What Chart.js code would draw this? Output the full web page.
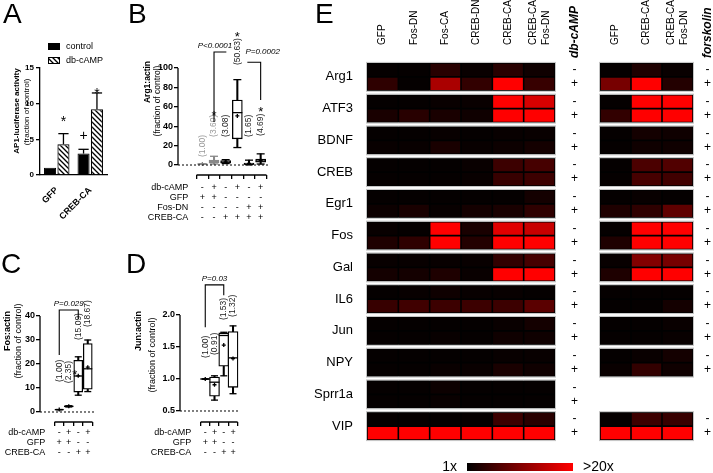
<!DOCTYPE html>
<html>
<head>
<meta charset="utf-8">
<script src="https://cdn.jsdelivr.net/npm/chart.js@4"></script>
<style>
  body { margin: 0; background: #fff; }
  #page { position: relative; width: 713px; height: 473px; overflow: hidden; font-family: 'Liberation Sans', Arial, sans-serif; }
  canvas { position: absolute; }
  .letter { position: absolute; font-size: 28px; line-height: 28px; color: #000; }
</style>
</head>
<body>
<div id="page">
  <canvas id="cA" width="115" height="240" style="left:0;top:0"></canvas>
  <canvas id="cB" width="190" height="240" style="left:110px;top:0"></canvas>
  <canvas id="cC" width="150" height="233" style="left:0;top:240px"></canvas>
  <canvas id="cD" width="175" height="233" style="left:125px;top:240px"></canvas>
  <canvas id="cE1" width="330" height="473" style="left:300px;top:0"></canvas>
  <canvas id="cE2" width="118" height="473" style="left:595px;top:0"></canvas>
  <div class="letter" style="left:3px;top:0">A</div>
  <div class="letter" style="left:128px;top:0">B</div>
  <div class="letter" style="left:1px;top:250px">C</div>
  <div class="letter" style="left:126px;top:250px">D</div>
  <div class="letter" style="left:315px;top:0">E</div>
</div>
<script>
// A: AP1-luciferase activity
const aGroups = ['GFP', 'CREB-CA'];
const aControl = [1.0, 3.0];
const aControlErr = [null, 3.6];
const aCamp = [4.3, 9.2];
const aCampErr = [5.8, 11.5];

// B: Arg1:actin
const bRows = ['db-cAMP', 'GFP', 'Fos-DN', 'CREB-CA'];
const bTable = [
  ['-', '+', '-', '+', '-', '+'],
  ['+', '+', '-', '-', '-', '-'],
  ['-', '-', '-', '-', '+', '+'],
  ['-', '-', '+', '+', '+', '+']
];
const bMin = [1, 1.0, 1.5, 18, 0.3, 1.0];
const bQ1 = [1, 2.0, 2.0, 27, 0.5, 3.0];
const bMed = [1, 3.5, 3.0, 54, 1.0, 4.0];
const bQ3 = [1, 5.0, 4.5, 67, 2.0, 6.0];
const bMax = [1, 9.0, 5.5, 88, 5.0, 11.5];
const bMean = [1.00, 3.60, 3.08, 50.63, 1.65, 4.69];

// C: Fos:actin
const cdRows = ['db-cAMP', 'GFP', 'CREB-CA'];
const cdTable = [
  ['-', '+', '-', '+'],
  ['+', '+', '-', '-'],
  ['-', '-', '+', '+']
];
const cMin = [1, 2.1, 7, 8.5];
const cQ1 = [1, 2.1, 8.3, 9.5];
const cMed = [1, 2.35, 15, 18];
const cQ3 = [1, 2.6, 21.5, 28.5];
const cMax = [1, 2.6, 23, 30];
const cMean = [1.00, 2.35, 15.09, 18.67];

// D: Jun:actin
const dMin = [1, 0.67, 1.05, 0.77];
const dQ1 = [1, 0.73, 1.2, 0.87];
const dMed = [1, 0.95, 1.68, 1.33];
const dQ3 = [1, 1.03, 1.72, 1.74];
const dMax = [1, 1.05, 1.73, 1.83];
const dMean = [1.00, 0.91, 1.53, 1.32];

// E: fold change heatmap
const genes = ['Arg1', 'ATF3', 'BDNF', 'CREB', 'Egr1', 'Fos', 'Gal', 'IL6', 'Jun', 'NPY', 'Sprr1a', 'VIP'];
const dbCols = ['GFP', 'Fos-DN', 'Fos-CA', 'CREB-DN', 'CREB-CA', ['CREB-CA', 'Fos-DN']];
const dbMinus = [
  [1.4, 1.4, 4.0, 1.7, 4.0, 2.1],
  [1.4, 1.4, 1.7, 1.7, 22, 17.0],
  [1.4, 1.4, 1.6, 1.4, 1.6, 1.7],
  [1.4, 1.4, 1.4, 1.7, 5.5, 6.2],
  [1.4, 1.4, 1.4, 1.4, 1.4, 2.5],
  [1.6, 1.4, 22, 2.9, 17.8, 15.9],
  [1.6, 1.6, 1.6, 1.6, 4.7, 6.2],
  [1.4, 1.6, 2.1, 1.6, 1.6, 1.4],
  [1.4, 1.4, 1.4, 1.4, 1.7, 2.5],
  [1.4, 1.4, 1.4, 1.4, 1.6, 1.6],
  [1.4, 1.4, 1.9, 1.4, 1.4, 1.4],
  [1.4, 1.4, 1.4, 1.4, 5.5, 4.0]
];
const dbPlus = [
  [4.4, 1.4, 13.7, 4.7, 22, 5.1],
  [2.9, 4.0, 2.9, 2.1, 22, 22],
  [1.6, 1.6, 2.9, 1.6, 1.9, 2.5],
  [1.4, 1.4, 1.4, 1.6, 5.1, 5.5],
  [1.9, 2.9, 1.6, 2.5, 2.9, 4.4],
  [3.2, 4.4, 22, 3.6, 22, 22],
  [2.5, 2.5, 3.2, 1.7, 22, 22],
  [5.1, 5.8, 5.5, 5.5, 5.5, 7.7],
  [1.4, 1.4, 1.6, 1.4, 2.1, 2.1],
  [1.4, 1.4, 1.7, 1.7, 2.9, 2.1],
  [1.4, 1.4, 1.7, 1.4, 1.4, 1.4],
  [22, 22, 22, 22, 22, 22]
];
const fskCols = ['GFP', 'CREB-CA', ['CREB-CA', 'Fos-DN']];
const fskMinus = [
  [1.4, 3.2, 1.7],
  [1.4, 22, 22],
  [1.4, 2.5, 2.1],
  [1.4, 6.6, 7.0],
  [1.4, 1.6, 1.4],
  [1.4, 22, 22],
  [1.6, 10.7, 9.9],
  [1.4, 1.4, 1.4],
  [1.4, 1.4, 1.7],
  [1.4, 1.7, 2.5],
  null,
  [1.4, 5.5, 5.1]
];
const fskPlus = [
  [9.9, 22, 3.6],
  [4.7, 22, 22],
  [1.4, 2.1, 2.1],
  [1.4, 6.2, 5.8],
  [3.2, 4.4, 8.1],
  [3.2, 22, 22],
  [3.2, 22, 22],
  [1.4, 1.4, 2.5],
  [1.4, 1.4, 1.6],
  [1.7, 4.7, 2.1],
  null,
  [22, 22, 22]
];

const FONT = "'Liberation Sans', Arial, sans-serif";
Chart.defaults.font.family = FONT;
Chart.defaults.color = '#000';

function line(ctx, x1, y1, x2, y2) {
  ctx.beginPath(); ctx.moveTo(x1, y1); ctx.lineTo(x2, y2); ctx.stroke();
}

function vtext(ctx, str, x, y, font, align, color) {
  ctx.save();
  ctx.translate(x, y); ctx.rotate(-Math.PI / 2);
  ctx.font = font; ctx.fillStyle = color || '#000';
  ctx.textAlign = align; ctx.textBaseline = 'middle';
  ctx.fillText(str, 0, 0);
  ctx.restore();
}

function glyph(ctx, s, x, yc, size) {
  ctx.font = size + 'px ' + FONT; ctx.textAlign = 'center'; ctx.textBaseline = 'alphabetic';
  ctx.fillText(s, x, yc + (s === '*' ? 0.58 : 0.34) * size);
}

function hatch(ctx) {
  const c = document.createElement('canvas');
  c.width = 5; c.height = 5;
  const g = c.getContext('2d');
  g.fillStyle = '#fff'; g.fillRect(0, 0, 5, 5);
  g.strokeStyle = '#000'; g.lineWidth = 1.3;
  g.beginPath();
  g.moveTo(-1, -1); g.lineTo(6, 6);
  g.moveTo(-1, 4); g.lineTo(1, 6);
  g.moveTo(4, -1); g.lineTo(6, 1);
  g.stroke();
  return ctx.createPattern(c, 'repeat');
}

// ---------- panel A ----------
const aMarks = [
  {ds: 0, i: 1, t: '+', y: 5.6},
  {ds: 1, i: 0, t: '*', y: 8.0},
  {ds: 1, i: 1, t: '*', y: 11.9}
];
const panelA = {
  id: 'panelA',
  afterDatasetsDraw(chart) {
    const ctx = chart.ctx, y = chart.scales.y;
    ctx.save();
    ctx.strokeStyle = '#000'; ctx.fillStyle = '#000'; ctx.lineWidth = 1.3;
    [aControlErr, aCampErr].forEach((errs, di) => {
      chart.getDatasetMeta(di).data.forEach((bar, i) => {
        if (errs[i] == null) return;
        const top = y.getPixelForValue(errs[i]);
        const w = bar.width * 0.85;
        line(ctx, bar.x, bar.y, bar.x, top);
        line(ctx, bar.x - w / 2, top, bar.x + w / 2, top);
      });
    });
    aMarks.forEach(m => {
      const bar = chart.getDatasetMeta(m.ds).data[m.i];
      glyph(ctx, m.t, bar.x, y.getPixelForValue(m.y), 14);
    });
    // legend
    chart.data.datasets.forEach((d, k) => {
      const ly = 43 + k * 14;
      ctx.fillStyle = d.backgroundColor;
      ctx.fillRect(48, ly, 12, 7);
      ctx.strokeStyle = '#000'; ctx.lineWidth = 1;
      ctx.strokeRect(48.5, ly + 0.5, 11, 6);
      ctx.fillStyle = '#000';
      ctx.font = '9px ' + FONT; ctx.textAlign = 'left'; ctx.textBaseline = 'middle';
      ctx.fillText(d.label, 66, ly + 4);
    });
    vtext(ctx, 'AP1-luciferase activity', 17, 111, 'bold 8px ' + FONT, 'center');
    vtext(ctx, '(fraction of control)', 27, 112, '8px ' + FONT, 'center');
    ctx.restore();
  }
};
const aCtx = document.getElementById('cA').getContext('2d');
new Chart(aCtx, {
  type: 'bar',
  data: {
    labels: aGroups,
    datasets: [
      {label: 'control', data: aControl, backgroundColor: '#000', borderColor: '#000', borderWidth: 1},
      {label: 'db-cAMP', data: aCamp, backgroundColor: hatch(aCtx), borderColor: '#000', borderWidth: 1.2}
    ]
  },
  options: {
    responsive: false, animation: false, events: [],
    layout: {padding: {top: 68, right: 8, left: 0, bottom: 0}},
    datasets: {bar: {categoryPercentage: 0.8, barPercentage: 0.9}},
    plugins: {legend: {display: false}, tooltip: {enabled: false}},
    scales: {
      x: {
        grid: {display: false},
        border: {color: '#000', width: 1.3},
        ticks: {minRotation: 45, maxRotation: 45, font: {size: 9, weight: 'bold'}, padding: 2},
        afterFit: s => { s.height = 65; }
      },
      y: {
        min: 0, max: 15,
        ticks: {stepSize: 5, font: {size: 8, weight: 'bold'}, padding: 2},
        grid: {drawOnChartArea: false, tickLength: 4, color: '#000', lineWidth: 1.3},
        border: {color: '#000', width: 1.3},
        afterFit: s => { s.width = 40; }
      }
    }
  },
  plugins: [panelA]
});

// ---------- box panels B, C, D ----------
function boxNotes(d, o) {
  return {
    id: 'boxNotes',
    afterDraw(chart) {
      const ctx = chart.ctx, x = chart.scales.x, y = chart.scales.y, a = chart.chartArea;
      const n = d.med.length;
      ctx.save();
      ctx.strokeStyle = '#000'; ctx.fillStyle = '#000'; ctx.lineWidth = 1.3;
      line(ctx, a.left, y.getPixelForValue(o.base), a.left, y.getPixelForValue(o.yMax));
      line(ctx, x.getPixelForValue(-0.5), a.bottom, x.getPixelForValue(n - 0.5), a.bottom);
      ctx.setLineDash([2, 2]); ctx.lineWidth = 1;
      line(ctx, a.left, y.getPixelForValue(o.base), x.getPixelForValue(n - 0.3), y.getPixelForValue(o.base));
      ctx.setLineDash([]); ctx.lineWidth = 1.1;

      vtext(ctx, o.title[0], o.titleX[0], o.titleY[0], 'bold ' + o.titleSize + 'px ' + FONT, 'center');
      vtext(ctx, o.title[1], o.titleX[1], o.titleY[1], o.titleSize + 'px ' + FONT, 'center');

      ctx.font = '9px ' + FONT; ctx.textBaseline = 'middle';
      d.rows.forEach((name, r) => {
        const ty = a.bottom + o.tableTop + r * 10;
        ctx.textAlign = 'right';
        ctx.fillText(name, x.getPixelForValue(0) - 14, ty);
        ctx.textAlign = 'center';
        d.table[r].forEach((s, i) => ctx.fillText(s, x.getPixelForValue(i), ty));
      });

      d.mean.forEach((m, i) => {
        vtext(ctx, '(' + m.toFixed(2) + ')', x.getPixelForValue(i), y.getPixelForValue(o.labelAt[i]),
          '8.5px ' + FONT, 'left', o.labelColors[i]);
      });

      ctx.fillStyle = '#000';
      o.stars.forEach(s => glyph(ctx, '*', x.getPixelForValue(s.at) + (s.dx || 0), y.getPixelForValue(s.y), 13));

      o.brackets.forEach(b => {
        const x1 = x.getPixelForValue(b.from) + (b.cutFrom || 0);
        const x2 = x.getPixelForValue(b.to) - (b.cutTo || 0);
        const yb = y.getPixelForValue(b.y);
        ctx.beginPath();
        if (b.legFrom != null) { ctx.moveTo(x1, y.getPixelForValue(b.legFrom)); ctx.lineTo(x1, yb); }
        else ctx.moveTo(x1, yb);
        ctx.lineTo(x2, yb);
        if (b.legTo != null) ctx.lineTo(x2, y.getPixelForValue(b.legTo));
        ctx.stroke();
        ctx.font = 'italic 8px ' + FONT; ctx.textAlign = 'center'; ctx.textBaseline = 'middle';
        ctx.fillText(b.text, x.getPixelForValue(b.textAt) + b.textDx, y.getPixelForValue(b.textY));
      });
      ctx.restore();
    }
  };
}

function boxPanel(id, d, o) {
  const pts = arr => arr.map((v, i) => ({x: i, y: v}));
  const span = (lo, hi) => lo.map((v, i) => ({x: i, y: [v, hi[i]]}));
  const c = o.colors;
  const mark = {type: 'line', showLine: false, pointBorderWidth: 1.3, order: 1};
  return new Chart(document.getElementById(id), {
    type: 'bar',
    data: {
      datasets: [
        {label: 'whisker', data: span(d.min, d.max), backgroundColor: c, barThickness: 1.4, grouped: false, order: 3},
        {label: 'box', data: span(d.q1, d.q3), backgroundColor: '#fff', borderColor: c, borderWidth: 1.3,
          borderSkipped: false, barThickness: o.box, grouped: false, order: 2},
        Object.assign({label: 'median', data: pts(d.med), pointStyle: 'line', pointRadius: o.box / 2, pointBorderColor: c}, mark),
        Object.assign({label: 'range', data: pts(d.min).concat(pts(d.max)), pointStyle: 'line', pointRadius: o.cap,
          pointBorderColor: c.concat(c)}, mark),
        Object.assign({label: 'mean', data: pts(d.mean), pointStyle: 'cross', pointRadius: 2, pointBorderColor: c}, mark)
      ]
    },
    options: {
      responsive: false, animation: false, events: [],
      layout: {padding: {top: o.top, right: o.right, left: 0, bottom: 0}},
      plugins: {legend: {display: false}, tooltip: {enabled: false}},
      scales: {
        x: {
          type: 'linear', min: o.xMin, max: o.xMax,
          afterBuildTicks: s => { s.ticks = d.med.map((_, i) => ({value: i})); },
          afterFit: s => { s.height = o.xH; },
          grid: {drawOnChartArea: false, drawTicks: true, tickLength: 4, color: '#000', lineWidth: 1.3},
          border: {display: false},
          ticks: {callback: () => '', padding: 0}
        },
        y: {
          min: o.yMin, max: o.yMax,
          afterBuildTicks: s => { s.ticks = s.ticks.filter(t => t.value >= o.base - 1e-9); },
          afterFit: s => { s.width = o.yW; },
          ticks: {stepSize: o.step, font: {size: 9, weight: 'bold'}, padding: 1, callback: o.fmt},
          grid: {drawOnChartArea: false, tickLength: 4, color: '#000', lineWidth: 1.3},
          border: {display: false}
        }
      }
    },
    plugins: [boxNotes(d, o)]
  });
}

boxPanel('cB',
  {min: bMin, q1: bQ1, med: bMed, q3: bQ3, max: bMax, mean: bMean, rows: bRows, table: bTable},
  {
    colors: ['#888', '#888', '#000', '#000', '#000', '#000'],
    labelColors: ['#999', '#999', '#222', '#222', '#222', '#222'],
    box: 10, cap: 4, top: 68, right: 20, xH: 65, yW: 68,
    xMin: -1.36, xMax: 5.93, yMin: -10.3, yMax: 100, base: 0, step: 20, fmt: v => v,
    title: ['Arg1:actin', '(fraction of control)'], titleX: [38, 48], titleY: [82, 101], titleSize: 8.5,
    tableTop: 13,
    labelAt: [8.2, 29, 29, 103, 29, 30],
    stars: [{at: 1, y: 54.6}, {at: 3, y: 136}, {at: 5, y: 58.8}],
    brackets: [
      {from: 1, to: 3, cutTo: 11, y: 116.5, legFrom: 44.3, text: 'P<0.0001', textAt: 1, textDx: 1, textY: 122.7},
      {from: 3, to: 5, cutFrom: 10, y: 106, legTo: 67, text: 'P=0.0002', textAt: 5, textDx: 2, textY: 116.5}
    ]
  });

boxPanel('cC',
  {min: cMin, q1: cQ1, med: cMed, q3: cQ3, max: cMax, mean: cMean, rows: cdRows, table: cdTable},
  {
    colors: ['#000', '#000', '#000', '#000'],
    labelColors: ['#222', '#222', '#222', '#222'],
    box: 9, cap: 3.5, top: 76, right: 40, xH: 51, yW: 40,
    xMin: -1.105, xMax: 4.42, yMin: -4.17, yMax: 40, base: 0, step: 10, fmt: v => v,
    title: ['Fos:actin', '(fraction of control)'], titleX: [8, 19], titleY: [91, 101], titleSize: 9,
    tableTop: 11,
    labelAt: [12.5, 12, 30, 35.4],
    stars: [{at: 1, y: 16.7, dx: 6}],
    brackets: [
      {from: 0, to: 2, y: 42.5, legFrom: 23.8, legTo: 38.8, text: 'P=0.029', textAt: 1, textDx: 0, textY: 45}
    ]
  });

boxPanel('cD',
  {min: dMin, q1: dQ1, med: dMed, q3: dQ3, max: dMax, mean: dMean, rows: cdRows, table: cdTable},
  {
    colors: ['#000', '#000', '#000', '#000'],
    labelColors: ['#222', '#222', '#222', '#222'],
    box: 10, cap: 3.5, top: 75, right: 20, xH: 51, yW: 55,
    xMin: -1.38, xMax: 6.73, yMin: 0.328, yMax: 2.0, base: 0.5, step: 0.5, fmt: v => v.toFixed(1),
    title: ['Jun:actin', '(fraction of control)'], titleX: [14, 28], titleY: [91, 115], titleSize: 9,
    tableTop: 11,
    labelAt: [1.33, 1.375, 1.92, 1.97],
    stars: [],
    brackets: [
      {from: 0, to: 2, y: 2.47, legFrom: 1.81, legTo: 2.31, text: 'P=0.03', textAt: 1, textDx: 0, textY: 2.56}
    ]
  });

// ---------- panel E heatmaps ----------
function heat(v) {
  const t = Math.max(0, Math.min(1, (v - 1) / 19));
  return 'rgb(' + Math.round(255 * t) + ',0,0)';
}

function heatNotes(cols, minus, o) {
  const blocks = (chart, fn) => {
    const y = chart.scales.y, a = chart.chartArea;
    const h = (a.bottom - a.top) / genes.length * 0.88;
    genes.forEach((g, gi) => { if (minus[gi]) fn(a, y.getPixelForValue(gi) - h / 2, h); });
  };
  return {
    id: 'heatNotes',
    beforeDatasetsDraw(chart) {
      const ctx = chart.ctx;
      ctx.save();
      ctx.fillStyle = '#000';
      blocks(chart, (a, top, h) => ctx.fillRect(a.left, top, a.right - a.left, h));
      ctx.restore();
    },
    afterDraw(chart) {
      const ctx = chart.ctx, x = chart.scales.x, a = chart.chartArea;
      ctx.save();
      ctx.strokeStyle = '#c4c4c4'; ctx.lineWidth = 1;
      blocks(chart, (ar, top, h) => ctx.strokeRect(ar.left - 0.5, top - 0.5, ar.right - ar.left + 1, h + 1));
      cols.forEach((c, ci) => {
        const lines = [].concat(c);
        lines.forEach((t, li) => {
          vtext(ctx, t, x.getPixelForValue(ci + 0.5) + (li - (lines.length - 1) / 2) * 13, a.top - 16, '10px ' + FONT, 'left');
        });
      });
      vtext(ctx, o.treat, a.right + o.signX, a.top - 3, 'italic bold 12px ' + FONT, 'left');
      if (o.colorbar) {
        const x0 = a.left + 100, x1 = a.left + 206, y0 = a.bottom + 21;
        const g = ctx.createLinearGradient(x0, 0, x1, 0);
        for (let k = 0; k <= 10; k++) g.addColorStop(k / 10, heat(1 + 19 * k / 10));
        ctx.fillStyle = g;
        ctx.fillRect(x0, y0, x1 - x0, 8);
        ctx.fillStyle = '#000';
        ctx.font = '14px ' + FONT; ctx.textBaseline = 'middle';
        ctx.textAlign = 'right'; ctx.fillText('1x', x0 - 10, y0 + 4);
        ctx.textAlign = 'left'; ctx.fillText('>20x', x1 + 10, y0 + 4);
      }
      ctx.restore();
    }
  };
}

function heatChart(id, cols, minus, plus, o) {
  const datasets = [];
  cols.forEach((c, ci) => {
    [['-', minus], ['+', plus]].forEach(([sign, rows]) => {
      datasets.push({
        label: [].concat(c).join(' ') + ' ' + sign,
        stack: sign,
        data: rows.map(r => (r ? [ci, ci + 1] : null)),
        backgroundColor: rows.map(r => (r ? heat(r[ci]) : 'rgba(0,0,0,0)')),
        borderColor: '#000', borderWidth: 0.8, borderSkipped: false,
        barPercentage: 1, categoryPercentage: 0.88
      });
    });
  });
  new Chart(document.getElementById(id), {
    type: 'bar',
    data: {labels: genes, datasets: datasets},
    options: {
      indexAxis: 'y',
      responsive: false, animation: false, events: [],
      layout: {padding: {top: 61, bottom: 31, left: o.padLeft, right: 0}},
      plugins: {legend: {display: false}, tooltip: {enabled: false}},
      scales: {
        x: {type: 'linear', min: 0, max: cols.length, display: false, stacked: false},
        y: {
          type: 'category', display: o.showGenes,
          grid: {display: false, drawTicks: false}, border: {display: false},
          ticks: {autoSkip: false, font: {size: 13}, padding: 14},
          afterFit: s => { s.width = o.showGenes ? 67 : 0; }
        },
        y2: {
          type: 'category', labels: genes, position: 'right', offset: true,
          grid: {display: false, drawTicks: false}, border: {display: false},
          ticks: {
            autoSkip: false, crossAlign: 'center', padding: o.signPad,
            font: {size: 12, lineHeight: '14px'},
            callback: (v, i) => (minus[i] ? ['-', '+'] : '')
          },
          afterFit: s => { s.width = o.rightW; }
        }
      }
    },
    plugins: [heatNotes(cols, minus, o)]
  });
}

heatChart('cE1', dbCols, dbMinus, dbPlus, {showGenes: true, padLeft: 0, signPad: 16, rightW: 75, signX: 20, treat: 'db-cAMP', colorbar: true});
heatChart('cE2', fskCols, fskMinus, fskPlus, {showGenes: false, padLeft: 5, signPad: 11, rightW: 20, signX: 15, treat: 'forskolin', colorbar: false});
</script>
</body>
</html>
